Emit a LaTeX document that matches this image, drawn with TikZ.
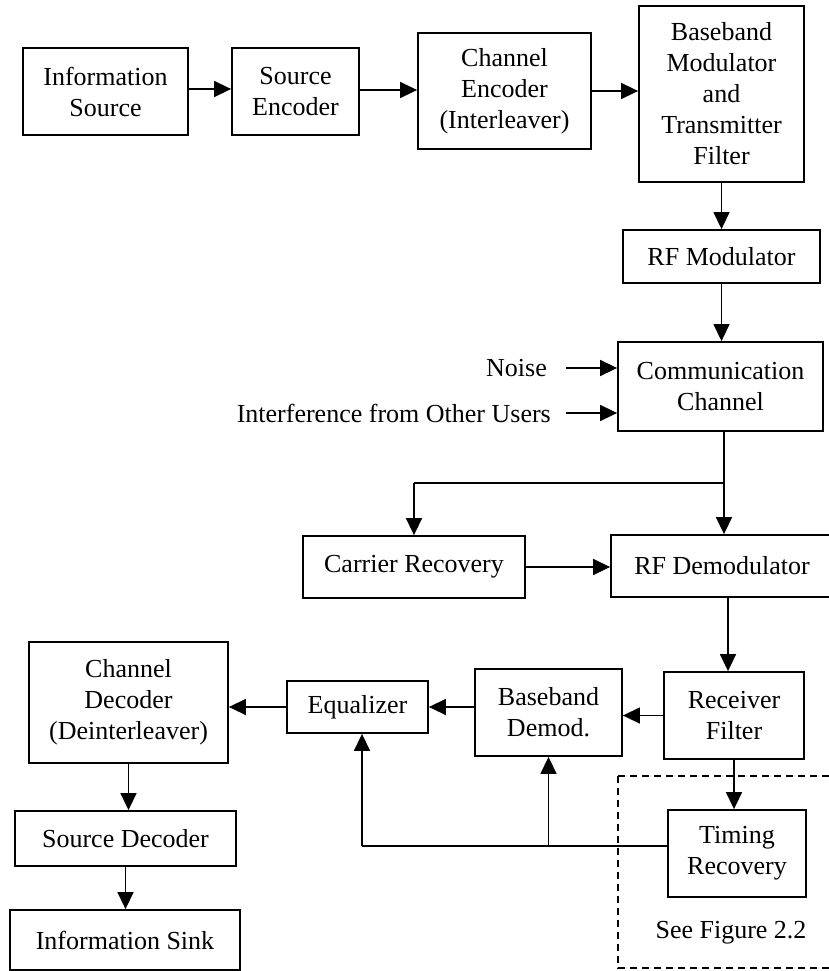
\documentclass[tikz,border=0pt]{standalone}
\usepackage{fontspec}
\setmainfont{Liberation Serif}
\usetikzlibrary{arrows.meta,calc}
\begin{document}
\begin{tikzpicture}[x=1pt,y=-1pt,
  blk/.style={draw,line width=1.8pt,align=center,inner sep=0pt,
    font=\fontsize{26}{31}\selectfont},
  lbl/.style={inner sep=0pt,font=\fontsize{26}{31}\selectfont},
  arr/.style={line width=1.5pt,-{Triangle[length=17pt,width=16pt]}},
  ln/.style={line width=1.5pt},
  frame/.style={line width=1.5pt,dash pattern=on 7pt off 5pt}]
\useasboundingbox (0,0) rectangle (828,971);

% transmitter chain
\node[blk,minimum width=165pt,minimum height=87pt] (infosrc) at (105.5,91.5) {Information\\Source};
\node[blk,minimum width=127pt,minimum height=87pt] (srcenc) at (295.5,91.5) {Source\\Encoder};
\node[blk,minimum width=173pt,minimum height=116pt] (chenc) at (504.5,91) {Channel\\Encoder\\(Interleaver)};
\node[blk,minimum width=165pt,minimum height=176pt] (bbmod) at (721.5,94) {Baseband\\Modulator\\and\\Transmitter\\Filter};
\node[blk,minimum width=197pt,minimum height=53pt] (rfmod) at (721.5,256.5) {RF Modulator};
\node[blk,minimum width=205pt,minimum height=89pt] (comm) at (720.5,386.5) {Communication\\Channel};

% disturbances
\node[lbl,anchor=east] (noise) at (547,368) {Noise};
\node[lbl,anchor=east] (intf) at (551,413) {Interference from Other Users};

% receiver front end
\node[blk,minimum width=222pt,minimum height=62pt] (carrier) at (414,567) {Carrier Recovery};
\node[blk,minimum width=222pt,minimum height=62pt] (rfdemod) at (722,566) {RF Demodulator};

% receiver back end
\node[blk,minimum width=140pt,minimum height=87pt] (rxfilt) at (734,715.5) {Receiver\\Filter};
\node[blk,minimum width=147pt,minimum height=87pt] (bbdemod) at (548.5,712.5) {Baseband\\Demod.};
\node[blk,minimum width=141pt,minimum height=52pt] (eq) at (357.5,707) {Equalizer};
\node[blk,minimum width=199pt,minimum height=121pt] (chdec) at (128.5,702.5) {Channel\\Decoder\\(Deinterleaver)};
\node[blk,minimum width=221pt,minimum height=55pt] (srcdec) at (125.5,838.5) {Source Decoder};
\node[blk,minimum width=230pt,minimum height=60pt] (sink) at (125,940) {Information Sink};
\node[blk,minimum width=138pt,minimum height=87pt] (timing) at (737,853.5) {Timing\\Recovery};

% timing recovery detail region
\node[lbl] (seefig) at (731,933) {See Figure 2.2};
\draw[frame] (618,776) -- (840,776);
\draw[frame] (618,776) -- (618,968) -- (840,968);

% helper points
\coordinate (split) at (724,483);
\coordinate (carrtop) at (carrier.north |- split);
\coordinate (fbout) at (timing.west |- 0,846);
\coordinate (fbeq) at (362,846);
\coordinate (fbbb) at (bbdemod.south |- fbout);

% connectors
\draw[arr] (infosrc.east |- 0,89) -- (srcenc.west |- 0,89);
\draw[arr] (srcenc.east |- 0,90) -- (chenc.west |- 0,90);
\draw[arr] (chenc.east) -- (chenc.east -| bbmod.west);
\draw[arr] (bbmod.south) -- (rfmod.north);
\draw[arr] (rfmod.south) -- (rfmod.south |- comm.north);
\draw[arr] ([xshift=19pt]noise.east) -- (noise.east -| comm.west);
\draw[arr] ([xshift=15pt]intf.east) -- (intf.east -| comm.west);
\draw[ln] (comm.south -| split) -- (split);
\draw[arr] (split) -- (split |- rfdemod.north);
\draw[ln] (split) -- (carrtop);
\draw[arr] (carrtop) -- (carrier.north);
\draw[arr] (carrier.east) -- (carrier.east -| rfdemod.west);
\draw[arr] ([xshift=-6pt]rxfilt.north |- rfdemod.south) -- ([xshift=-6pt]rxfilt.north);
\draw[arr] (rxfilt.west) -- (rxfilt.west -| bbdemod.east);
\draw[arr] (bbdemod.west |- eq.east) -- (eq.east);
\draw[arr] (eq.west) -- (eq.west -| chdec.east);
\draw[arr] (rxfilt.south) -- (rxfilt.south |- timing.north);
\draw[ln] (fbout) -- (fbeq);
\draw[arr] (fbeq) -- (fbeq |- eq.south);
\draw[arr] (fbbb) -- (bbdemod.south);
\draw[arr] (chdec.south) -- (chdec.south |- srcdec.north);
\draw[arr] (srcdec.south) -- (srcdec.south |- sink.north);
\end{tikzpicture}
\end{document}
